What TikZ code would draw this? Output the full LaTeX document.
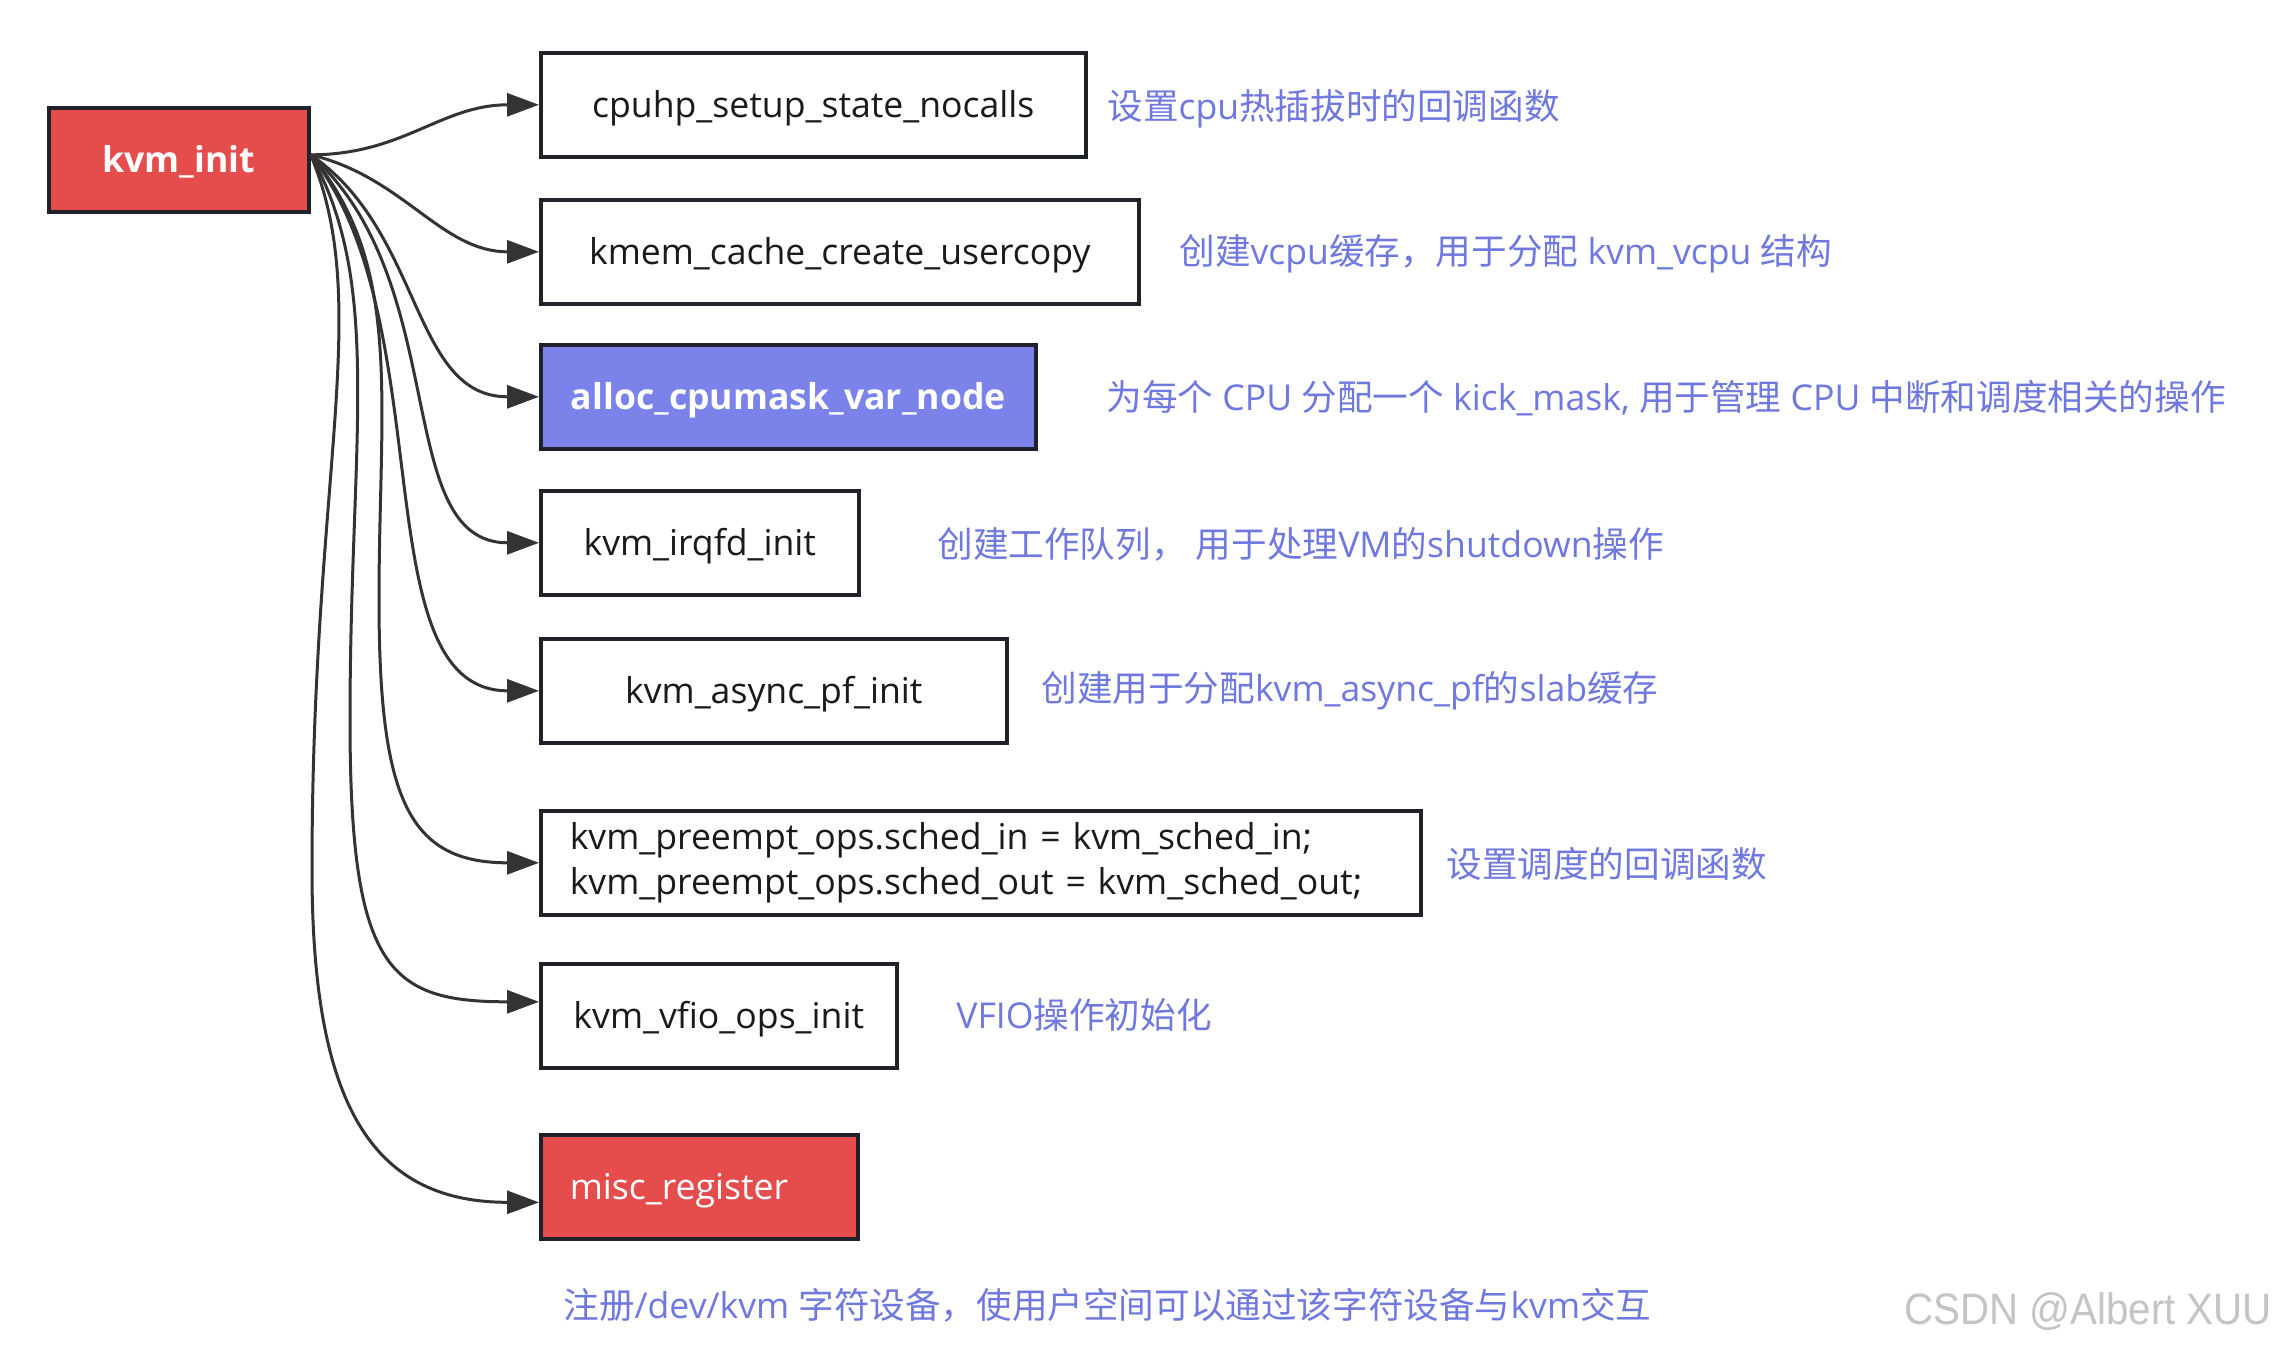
\documentclass[tikz,border=0pt]{standalone}
\usepackage{fontspec}
\setmainfont{Open Sans}
\newfontfamily\cjk{Noto Sans CJK SC}
\newfontfamily\wmfont{Liberation Sans}
\usetikzlibrary{arrows.meta}
\definecolor{boxred}{HTML}{E54D4D}
\definecolor{boxblue}{HTML}{7B83EB}
\definecolor{notecol}{HTML}{6F78DE}
\definecolor{edgecol}{HTML}{333333}
\definecolor{framecol}{HTML}{1F2329}
\definecolor{wmcol}{HTML}{C4C4C4}
\definecolor{txtcol}{HTML}{1A1A1A}
\newcommand\zh[1]{{\cjk #1}}
\newcommand\bxfont{\fontsize{17.8pt}{22.5pt}\selectfont}
\begin{document}
\begin{tikzpicture}[x=0.5pt,y=-0.5pt,
  box/.style={draw=framecol, line width=1.8pt, minimum height=52pt, inner sep=0pt,
    anchor=north west, text=txtcol, font=\bxfont},
  onebox/.style={box, text height=15.1pt, text depth=2.9pt},
  notebox/.style={anchor=west, inner sep=0pt, text=notecol, font=\bxfont},
  arr/.style={draw=edgecol, line width=1.5pt, -{Triangle[length=16pt,width=11.5pt]}}]
\fill[white] (0,0) rectangle (2279,1350);
\useasboundingbox (0,0) rectangle (2279,1350);

% boxes
\node[onebox, fill=boxred, text=white, minimum width=130pt, font=\bxfont\bfseries] (init) at (47,106) {kvm\_init};
\node[onebox, fill=white, minimum width=272.5pt] (cpuhp) at (539,51) {cpuhp\_setup\_state\_nocalls};
\node[onebox, fill=white, minimum width=299pt] (kmem) at (539,198) {kmem\_cache\_create\_usercopy};
\node[onebox, fill=boxblue, text=white, minimum width=247.5pt, font=\bxfont\bfseries] (alloc) at (539,343) {alloc\_cpumask\_var\_node};
\node[onebox, fill=white, minimum width=159pt] (irqfd) at (539,489) {kvm\_irqfd\_init};
\node[onebox, fill=white, minimum width=233pt] (async) at (539,637) {kvm\_async\_pf\_init};
\node[box, fill=white, inner xsep=14.5pt, text width=411pt, align=left] (preempt) at (539,809)
  {kvm\_preempt\_ops.sched\_in = kvm\_sched\_in;\\kvm\_preempt\_ops.sched\_out = kvm\_sched\_out;};
\node[onebox, fill=white, minimum width=178pt] (vfio) at (539,962) {kvm\_vfio\_ops\_init};
\node[onebox, fill=boxred, text=white, inner xsep=14.5pt, text width=129.5pt, align=left] (misc) at (539,1133) {misc\_register};

% annotations
\node[notebox] (n1) at (1107,109) {\zh{设置}cpu\zh{热插拔时的回调函数}};
\node[notebox] (n2) at (1179,254) {\zh{创建}vcpu\zh{缓存，用于分配} kvm\_vcpu \zh{结构}};
\node[notebox] (n3) at (1106,398) {\zh{为每个} CPU \zh{分配一个} kick\_mask, \zh{用于管理} CPU \zh{中断和调度相关的操作}};
\node[notebox] (n4) at (937,544) {\zh{创建工作队列，} \zh{用于处理}VM\zh{的}shutdown\zh{操作}};
\node[notebox] (n5) at (1041,691) {\zh{创建用于分配}kvm\_async\_pf\zh{的}slab\zh{缓存}};
\node[notebox] (n6) at (1446,864) {\zh{设置调度的回调函数}};
\node[notebox] (n7) at (956,1015) {VFIO\zh{操作初始化}};
\node[notebox] (n8) at (563,1305) {\zh{注册}/dev/kvm \zh{字符设备，使用户空间可以通过该字符设备与}kvm\zh{交互}};
\node[anchor=west, inner sep=0pt, text=wmcol, font=\wmfont\fontsize{22pt}{26pt}\selectfont] (wm) at (1904,1312)
  {\scalebox{0.915}[1]{CSDN @Albert XUU}};

% bend points
\coordinate (bpre) at (379,600);
\coordinate (bvfio) at (350,720);
\coordinate (bmisc) at (312,870);

% connectors
\draw[arr] ([yshift=2.5pt]init.east) .. controls +(93,0) and +(-98,0) .. (cpuhp.west);
\draw[arr] ([yshift=2.5pt]init.east) .. controls +(93,22) and +(-98,0) .. (kmem.west);
\draw[arr] ([yshift=2.5pt]init.east) .. controls +(113,77) and +(-128,0) .. (alloc.west);
\draw[arr] ([yshift=2.5pt]init.east) .. controls +(143,127) and +(-148,0) .. (irqfd.west);
\draw[arr] ([yshift=2.5pt]init.east) .. controls +(133,167) and +(-178,0) .. (async.west);
\draw[arr] ([yshift=2.5pt]init.east) .. controls +(93,110) and +(0,-200) .. (bpre)
  .. controls +(0,200) and +(-130,0) .. (preempt.west);
\draw[arr] ([yshift=2.5pt]init.east) .. controls +(73,130) and +(0,-280) .. (bvfio)
  .. controls +(0,250) and +(-150,0) .. ([yshift=7pt]vfio.west);
\draw[arr] ([yshift=2.5pt]init.east) .. controls +(63,150) and +(0,-400) .. (bmisc)
  .. controls +(0,230) and +(-170,0) .. ([yshift=-7.75pt]misc.west);
\end{tikzpicture}
\end{document}
